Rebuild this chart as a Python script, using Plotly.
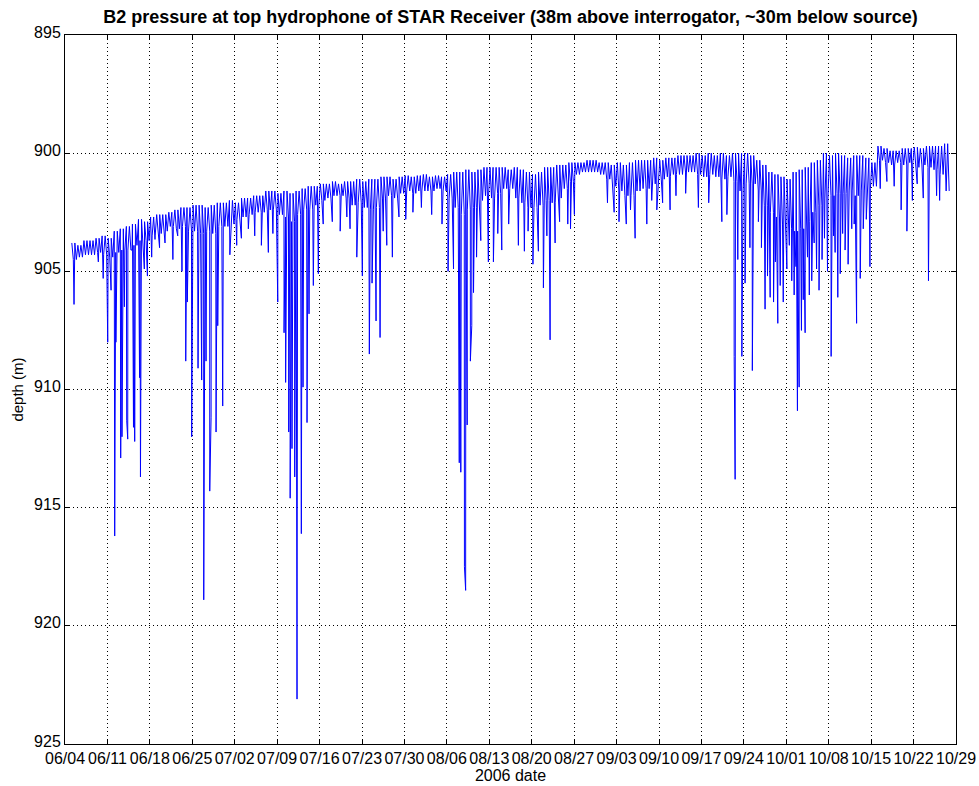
import numpy as np
import pandas as pd
import plotly.graph_objects as go

# Day offsets are counted from 2006-06-04 00:00
start = pd.Timestamp("2006-06-04")

# Daily envelope of the tidal band: shallow (top) and deep (bottom) depth, m
band_days = list(range(1, 146))
band_top = [
    903.8, 903.9, 903.7, 903.7, 903.6, 903.5, 903.6, 903.3, 903.2, 903.1,
    903.0, 902.8, 902.9, 902.7, 902.6, 902.6, 902.5, 902.4, 902.3, 902.3,
    902.2, 902.2, 902.3, 902.2, 902.1, 902.1, 902.0, 902.1, 901.9, 901.9,
    901.8, 901.8, 901.6, 901.6, 901.7, 901.6, 901.7, 901.6, 901.5, 901.4,
    901.4, 901.3, 901.3, 901.2, 901.3, 901.2, 901.2, 901.1, 901.2, 901.1,
    901.1, 901.0, 901.0, 901.1, 901.0, 900.95, 901.0, 900.95, 900.9, 901.0,
    900.95, 901.0, 900.9, 900.8, 900.8, 900.7, 900.8, 900.7, 900.6, 900.6,
    900.6, 900.6, 900.7, 900.6, 900.7, 900.8, 900.9, 900.8, 900.6, 900.6,
    900.5, 900.5, 900.4, 900.4, 900.4, 900.3, 900.3, 900.4, 900.4, 900.5,
    900.4, 900.5, 900.4, 900.3, 900.3, 900.3, 900.2, 900.3, 900.2, 900.2,
    900.1, 900.1, 900.1, 900.0, 900.1, 900.0, 900.1, 900.0, 900.1, 900.0,
    900.0, 900.0, 900.1, 900.3, 900.5, 900.8, 900.9, 901.0, 901.1, 900.8,
    900.7, 900.6, 900.4, 900.3, 900.0, 900.1, 900.0, 900.1, 900.2, 900.1,
    900.1, 900.2, 900.4, 899.7, 899.8, 899.9, 899.9, 899.8, 899.8, 899.75,
    899.8, 899.7, 899.7, 899.7, 899.6,
]
band_bottom = [
    904.5, 904.4, 904.3, 904.3, 904.2, 904.3, 904.4, 904.2, 904.1, 904.1,
    903.9, 903.7, 903.7, 903.5, 903.4, 903.3, 903.1, 903.2, 903.1, 903.3,
    903.3, 903.4, 903.3, 903.4, 903.1, 903.1, 903.0, 902.8, 902.7, 902.6,
    902.5, 902.5, 902.4, 902.4, 902.6, 902.7, 902.9, 902.6, 902.4, 902.4,
    902.2, 902.0, 901.9, 901.8, 901.8, 901.9, 902.2, 902.1, 902.3, 902.4,
    902.3, 901.9, 901.8, 901.9, 901.7, 901.6, 901.7, 901.6, 901.6, 901.6,
    901.5, 901.6, 901.9, 902.3, 902.6, 902.4, 902.3, 902.0, 901.8, 901.9,
    901.7, 901.5, 901.5, 901.9, 902.1, 902.3, 902.3, 902.2, 902.0, 902.1,
    901.9, 901.5, 901.2, 900.9, 900.8, 900.8, 900.8, 900.9, 901.1, 901.4,
    901.6, 901.8, 901.8, 901.6, 901.5, 901.5, 901.3, 901.1, 901.0, 900.9,
    900.9, 900.8, 900.8, 900.9, 901.0, 900.9, 901.0, 901.1, 901.0, 901.2,
    901.6, 901.3, 901.3, 901.6, 902.2, 902.5, 902.7, 903.0, 903.2, 903.3,
    903.2, 902.9, 902.5, 902.2, 901.9, 901.8, 901.7, 901.7, 901.6, 901.8,
    901.6, 901.5, 901.4, 900.3, 900.4, 900.5, 900.4, 900.5, 900.4, 900.6,
    900.5, 900.6, 900.7, 900.9, 901.6,
]

# Strong excursions (receiver pulled down by currents): time and depth reached
spike_day = [
    1.49, 5.5, 7.05, 8.2, 8.4, 9.19, 9.4, 10.18, 10.35, 11.06,
    11.3, 11.5, 12.3, 12.45, 13.09, 14.85, 19.92, 20.18, 20.9, 21.95,
    22.55, 22.89, 23.27, 23.88, 24.1, 24.92, 25.2, 26.02, 28.33, 30.25,
    33.55, 35.1, 36.14, 36.4, 36.91, 37.15, 37.45, 37.9, 38.28, 38.99,
    39.27, 39.93, 40.26, 40.97, 41.8, 47.03, 48.14, 49.06, 50.21, 50.66,
    51.32, 51.98, 53.09, 54.01, 56.22, 63.2, 64.1, 64.9, 65.05, 65.3,
    65.9, 66.1, 66.35, 66.88, 67.11, 67.4, 67.9, 69.85, 70.68, 72.06,
    74.8, 75.79, 78.1, 78.93, 80.03, 80.86, 82.95, 84.04, 94.06, 95.99,
    97.64, 99.83, 108.37, 110.4, 110.56, 111.67, 113.4, 114.4, 115.5, 116.34,
    116.9, 117.6, 118.0, 119.1, 119.9, 120.84, 121.12, 121.5, 122.11, 123.2,
    124.0, 124.9, 126.4, 127.06, 127.9, 128.7, 129.8, 130.6, 131.7, 132.8,
    137.95, 138.9, 142.46, 143.8,
]
spike_depth = [
    906.4, 904.6, 908.0, 916.2, 908.0, 912.9, 912.0, 911.3, 912.1, 904.1,
    911.6, 912.2, 909.5, 913.7, 904.9, 903.65, 908.8, 906.3, 912.0, 909.1,
    909.6, 918.9, 908.8, 914.3, 911.2, 911.8, 907.3, 910.7, 903.9, 903.2,
    904.2, 906.3, 907.6, 909.7, 911.8, 914.6, 912.5, 913.7, 923.1, 916.1,
    909.9, 911.4, 906.8, 905.6, 905.1, 903.2, 904.4, 905.2, 908.5, 905.5,
    907.1, 907.8, 903.9, 904.4, 902.8, 905.0, 904.9, 905.5, 913.1, 913.5,
    917.5, 918.5, 911.5, 908.8, 907.3, 905.9, 904.4, 904.6, 904.6, 904.1,
    903.9, 904.15, 904.15, 905.7, 907.9, 903.8, 903.0, 902.6, 903.6, 903.0,
    902.4, 902.4, 902.9, 908.6, 913.8, 908.6, 909.2, 902.9, 906.6, 906.1,
    906.3, 907.2, 905.6, 904.9, 905.4, 910.9, 909.9, 907.5, 907.6, 905.4,
    904.9, 904.5, 908.6, 904.2, 905.1, 904.1, 903.2, 907.2, 903.2, 904.8,
    902.4, 903.3, 905.4, 901.8,
]

# Smaller dips just below the tidal band
minor_day = [
    6.3, 7.6, 9.8, 13.6, 14.3, 15.6, 16.5, 17.8, 18.6, 19.3,
    27.2, 29.1, 31.3, 32.4, 34.3, 42.6, 44.1, 45.4, 46.5, 52.5,
    55.1, 57.4, 58.8, 60.5, 62.2, 68.6, 71.4, 73.2, 76.4, 77.2,
    79.5, 81.6, 83.4, 89.5, 90.6, 91.4, 92.6, 93.3, 96.8, 98.6,
    100.8, 102.4, 104.5, 106.2, 109.2, 111.0, 112.2, 113.0, 114.9, 115.9,
    117.2, 118.5, 119.5, 120.3, 120.6, 121.8, 122.5, 122.8, 123.6, 124.4,
    125.3, 125.8, 126.8, 127.5, 128.3, 129.2, 130.2, 131.2, 132.2, 134.5,
    135.6, 136.8, 139.8, 140.6, 141.6, 144.3,
]
minor_depth = [
    905.3, 905.8, 906.5, 905.2, 904.4, 904.0, 903.8, 904.5, 903.5, 905.0,
    904.3, 903.6, 903.5, 903.9, 903.4, 903.0, 902.9, 903.3, 902.7, 903.3,
    902.7, 902.5, 902.3, 902.6, 903.0, 903.7, 903.4, 903.0, 903.3, 904.7,
    903.5, 902.9, 903.2, 902.1, 902.5, 902.9, 903.0, 902.4, 902.0, 902.1,
    901.8, 901.7, 902.3, 902.1, 902.6, 904.5, 905.5, 904.0, 904.0, 905.2,
    904.6, 906.3, 903.9, 906.0, 904.8, 906.2, 904.4, 906.0, 903.8, 905.8,
    903.6, 905.0, 903.5, 906.1, 903.4, 904.7, 903.0, 905.3, 902.8, 901.5,
    901.2, 901.4, 902.0, 901.3, 901.9, 902.0,
]

tick_labels = ["06/04", "06/11", "06/18", "06/25", "07/02", "07/09", "07/16",
               "07/23", "07/30", "08/06", "08/13", "08/20", "08/27", "09/03",
               "09/10", "09/17", "09/24", "10/01", "10/08", "10/15", "10/22",
               "10/29"]
depth_ticks = [895, 900, 905, 910, 915, 920, 925]

# Assemble the record: two tidal highs/lows per day, plus the excursions,
# all in time order
t = []
v = []
for d, hi, lo in zip(band_days, band_top, band_bottom):
    t += [d + 0.125, d + 0.375, d + 0.625, d + 0.875]
    v += [hi, lo, hi, lo]
t += spike_day + minor_day
v += spike_depth + minor_depth
order = np.argsort(t, kind="stable")
times = start + pd.to_timedelta(np.asarray(t)[order], unit="D")
depth = np.asarray(v)[order]

tick_dates = [start + pd.Timedelta(days=7 * i) for i in range(len(tick_labels))]

fig = go.Figure(go.Scatter(
    x=times, y=depth, mode="lines",
    line=dict(color="#0000ff", width=1),
    hoverinfo="skip",
))

font = "Liberation Sans, Arial, sans-serif"
axis_common = dict(
    showline=True, linecolor="black", linewidth=1, mirror="ticks",
    ticks="inside", ticklen=5, tickcolor="black", tickwidth=1,
    showgrid=True, gridcolor="black", gridwidth=1, griddash="1px,3px",
    zeroline=False, automargin=False,
    tickfont=dict(family=font, size=16, color="black"),
)

fig.update_xaxes(
    type="date", range=[tick_dates[0], tick_dates[-1]],
    tickmode="array", tickvals=tick_dates, ticktext=tick_labels,
    ticklabelstandoff=0,
    title=dict(text="2006 date", font=dict(family=font, size=16, color="black"),
               standoff=0),
    **axis_common,
)
fig.update_yaxes(
    range=[925, 895], tickmode="array", tickvals=depth_ticks,
    ticktext=[str(x) for x in depth_ticks],
    ticklabelshift=3,
    title=dict(text="depth (m)", font=dict(family=font, size=15, color="black"),
               standoff=6),
    **axis_common,
)

fig.update_layout(
    width=979, height=786, autosize=False,
    margin=dict(l=65, r=23, t=35, b=42),
    paper_bgcolor="white", plot_bgcolor="white",
    showlegend=False,
    title=dict(
        text="B2 pressure at top hydrophone of STAR Receiver (38m above interrogator, ~30m below source)",
        x=0.5, xref="paper", xanchor="center",
        y=1 - 17 / 786, yref="container", yanchor="middle",
        font=dict(family=font, size=18, color="black", weight="bold"),
    ),
)

fig.write_html("out.html", config={"displayModeBar": False})
